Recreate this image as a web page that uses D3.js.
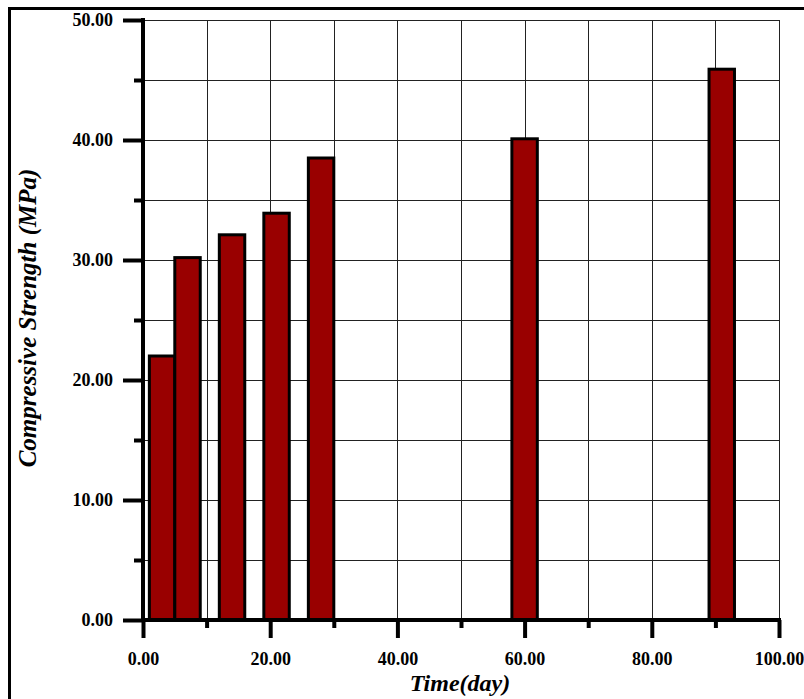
<!DOCTYPE html>
<html>
<head>
<meta charset="utf-8">
<script src="https://cdn.jsdelivr.net/npm/d3@7"></script>
<style>
  html, body { margin: 0; padding: 0; background: #fff; }
  svg { display: block; }
</style>
</head>
<body>
<svg id="chart" width="804" height="699"></svg>
<script>
// Data
const days = [3, 7, 14, 21, 28, 60, 91];
const strength = [22.0, 30.2, 32.1, 33.9, 38.5, 40.1, 45.9];
const barWidthDays = 4;
const xTicks = [0, 20, 40, 60, 80, 100];
const yTicks = [0, 10, 20, 30, 40, 50];
const xTitle = "Time(day)";
const yTitle = "Compressive Strength (MPa)";

const svg = d3.select("#chart");
const pLeft = 143, pRight = 779, pTop = 20, pBottom = 620;
const serif = "'Liberation Serif', 'Times New Roman', Times, serif";

const x = d3.scaleLinear().domain([0, 100]).range([pLeft, pRight]);
const y = d3.scaleLinear().domain([0, 50]).range([pBottom, pTop]);

// outer frame (only top/left visible)
svg.append("rect")
  .attr("x", 9.5).attr("y", 8.5)
  .attr("width", 820).attr("height", 720)
  .attr("fill", "none").attr("stroke", "#000").attr("stroke-width", 3);

// grid
const g = svg.append("g");
const xGrid = d3.range(10, 101, 10);
const yGrid = d3.range(5, 51, 5);
g.selectAll(".vg").data(xGrid).join("line")
  .attr("x1", d => Math.round(x(d)) + 0.5).attr("x2", d => Math.round(x(d)) + 0.5)
  .attr("y1", pTop).attr("y2", pBottom)
  .attr("stroke", "#222").attr("stroke-width", 1);
g.selectAll(".hg").data(yGrid).join("line")
  .attr("y1", d => Math.round(y(d)) + 0.5).attr("y2", d => Math.round(y(d)) + 0.5)
  .attr("x1", pLeft).attr("x2", pRight)
  .attr("stroke", "#222").attr("stroke-width", 1);

// bars
svg.append("g").selectAll("rect").data(days).join("rect")
  .attr("x", (d) => x(d - barWidthDays / 2))
  .attr("width", (d) => x(d + barWidthDays / 2) - x(d - barWidthDays / 2))
  .attr("y", (d, i) => y(strength[i]))
  .attr("height", (d, i) => y(0) - y(strength[i]))
  .attr("fill", "#990000")
  .attr("stroke", "#000")
  .attr("stroke-width", 3);

// axes
const fmt = d3.format(".2f");
const xAxis = d3.axisBottom(x).tickValues(xTicks).tickFormat(fmt).tickSize(18).tickPadding(14);
const xAxisMinor = d3.axisBottom(x).tickValues(d3.range(10, 100, 20)).tickFormat("").tickSize(8);
const yAxis = d3.axisLeft(y).tickValues(yTicks).tickFormat(fmt).tickSize(20).tickPadding(10);
const yAxisMinor = d3.axisLeft(y).tickValues(d3.range(5, 50, 10)).tickFormat("").tickSize(9);

function styleAxis(sel) {
  sel.attr("font-family", serif).attr("font-size", 18);
  sel.select(".domain").remove();
  sel.selectAll(".tick line").attr("stroke", "#000").attr("stroke-width", 4);
  sel.selectAll("text")
    .attr("fill", "#000")
    .style("font-family", serif)
    .style("font-weight", "bold")
    .style("font-size", "18px");
}

svg.append("g").attr("transform", `translate(0,${pBottom})`).call(xAxis).call(styleAxis);
svg.append("g").attr("transform", `translate(0,${pBottom})`).call(xAxisMinor).call(styleAxis);
svg.append("g").attr("transform", `translate(${pLeft},0)`).call(yAxis).call(styleAxis);
svg.append("g").attr("transform", `translate(${pLeft},0)`).call(yAxisMinor).call(styleAxis);

// axis lines
svg.append("line").attr("x1", pLeft).attr("x2", pLeft).attr("y1", pTop - 2).attr("y2", pBottom + 2)
  .attr("stroke", "#000").attr("stroke-width", 4);
svg.append("line").attr("x1", pLeft - 2).attr("x2", pRight + 2).attr("y1", pBottom).attr("y2", pBottom)
  .attr("stroke", "#000").attr("stroke-width", 4);

// titles
svg.append("text")
  .attr("x", 460).attr("y", 691)
  .attr("text-anchor", "middle")
  .style("font-family", serif)
  .style("font-weight", "bold").style("font-style", "italic").style("font-size", "24px")
  .text(xTitle);

svg.append("text")
  .attr("transform", `translate(36,${318}) rotate(-90)`)
  .attr("text-anchor", "middle")
  .style("font-family", serif)
  .style("font-weight", "bold").style("font-style", "italic").style("font-size", "25px")
  .text(yTitle);
</script>
</body>
</html>
